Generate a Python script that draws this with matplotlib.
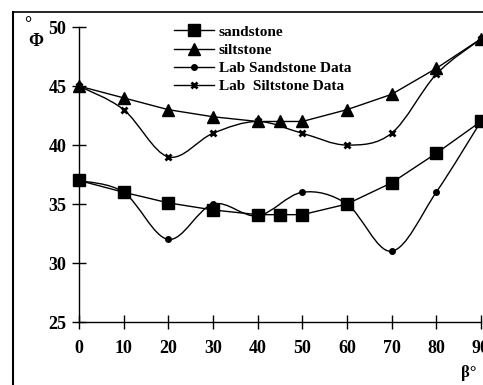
import matplotlib
matplotlib.use("Agg")
import numpy as np
import matplotlib.pyplot as plt
from matplotlib.lines import Line2D
from matplotlib.path import Path
from matplotlib.patches import PathPatch

plt.rcParams['font.family'] = ['Liberation Serif', 'DejaVu Serif']
plt.rcParams['font.weight'] = 'bold'

# inclination beta (deg)
beta = [0, 10, 20, 30, 40, 45, 50, 60, 70, 80, 90]
sandstone = [37, 36, 35.1, 34.5, 34.1, 34.1, 34.1, 35, 36.8, 39.3, 42]
siltstone = [45, 44, 43, 42.4, 42, 42, 42, 43, 44.3, 46.5, 49]

beta_lab = [0, 10, 20, 30, 40, 50, 60, 70, 80, 90]
lab_sandstone = [37, 36, 32, 35, 34, 36, 35, 31, 36, 42]
lab_siltstone = [45, 43, 39, 41, 42, 41, 40, 41, 46, 49]

xticks = [0, 10, 20, 30, 40, 50, 60, 70, 80, 90]
yticks = [25, 30, 35, 40, 45, 50]


def smooth_path(x, y):
    # Catmull-Rom style bezier through the data points (drawing only)
    p = np.column_stack([x, y]).astype(float)
    verts = [p[0]]
    codes = [Path.MOVETO]
    n = len(p)
    for i in range(n - 1):
        p0 = p[i - 1] if i > 0 else p[i]
        p1, p2 = p[i], p[i + 1]
        p3 = p[i + 2] if i + 2 < n else p[i + 1]
        c1 = p1 + (p2 - p0) / 6.0
        c2 = p2 - (p3 - p1) / 6.0
        verts += [c1, c2, p2]
        codes += [Path.CURVE4] * 3
    return Path(verts, codes)


fig = plt.figure(figsize=(4.83, 3.85), dpi=100)
ax = fig.add_axes([0.1636, 0.1636, 0.832, 0.766])

ax.plot(beta, sandstone, color='black', lw=1.0, marker='s', ms=8,
        clip_on=False, label='sandstone', zorder=3)
ax.plot(beta, siltstone, color='black', lw=1.0, marker='^', ms=8,
        clip_on=False, label='siltstone', zorder=3)

for xs, ys, mk, ms, lab in [(beta_lab, lab_sandstone, 'o', 4, 'Lab Sandstone Data'),
                            (beta_lab, lab_siltstone, 'x', 5, 'Lab  Siltstone Data')]:
    ax.add_patch(PathPatch(smooth_path(xs, ys), facecolor='none',
                           edgecolor='black', lw=1.0, clip_on=False, zorder=2))
    ax.plot(xs, ys, color='black', lw=1.0, ls='none', marker=mk, ms=ms,
            mew=2 if mk == 'x' else 1, clip_on=False, zorder=3)
    ax.plot([], [], color='black', lw=1.0, marker=mk, ms=ms,
            mew=2 if mk == 'x' else 1, label=lab)

ax.set_xlim(0, 90)
ax.set_ylim(25, 50)
ax.set_xticks(xticks)
ax.set_yticks(yticks)
for s in ['top', 'right']:
    ax.spines[s].set_visible(False)
for s in ['left', 'bottom']:
    ax.spines[s].set_linewidth(1.0)
ax.tick_params(direction='inout', length=10, width=1.0, labelsize=13, pad=4)
ax.tick_params(axis='x', pad=8)
for lab in ax.get_xticklabels() + ax.get_yticklabels():
    lab.set_fontweight('bold')

ax.legend(loc='upper left', bbox_to_anchor=(0.345, 0.955),
          bbox_transform=fig.transFigure, frameon=False,
          handlelength=2.6, handletextpad=0.3, labelspacing=0.3,
          borderpad=0, prop={'weight': 'bold', 'size': 11})

# axis labels
fig.text(0.955, 0.02, 'β°', fontsize=12, fontweight='bold')
fig.text(0.05, 0.925, '°', fontsize=13, fontweight='bold')
fig.text(0.058, 0.88, 'Φ', fontsize=13, fontweight='bold')

# scanned frame
fig.add_artist(Line2D([0.027, 0.027], [0.0, 0.97], color='black', lw=1.5,
                      transform=fig.transFigure))
fig.add_artist(Line2D([0.027, 1.0], [0.97, 0.97], color='black', lw=1.2,
                      transform=fig.transFigure))

fig.savefig('out.png', dpi=100)
